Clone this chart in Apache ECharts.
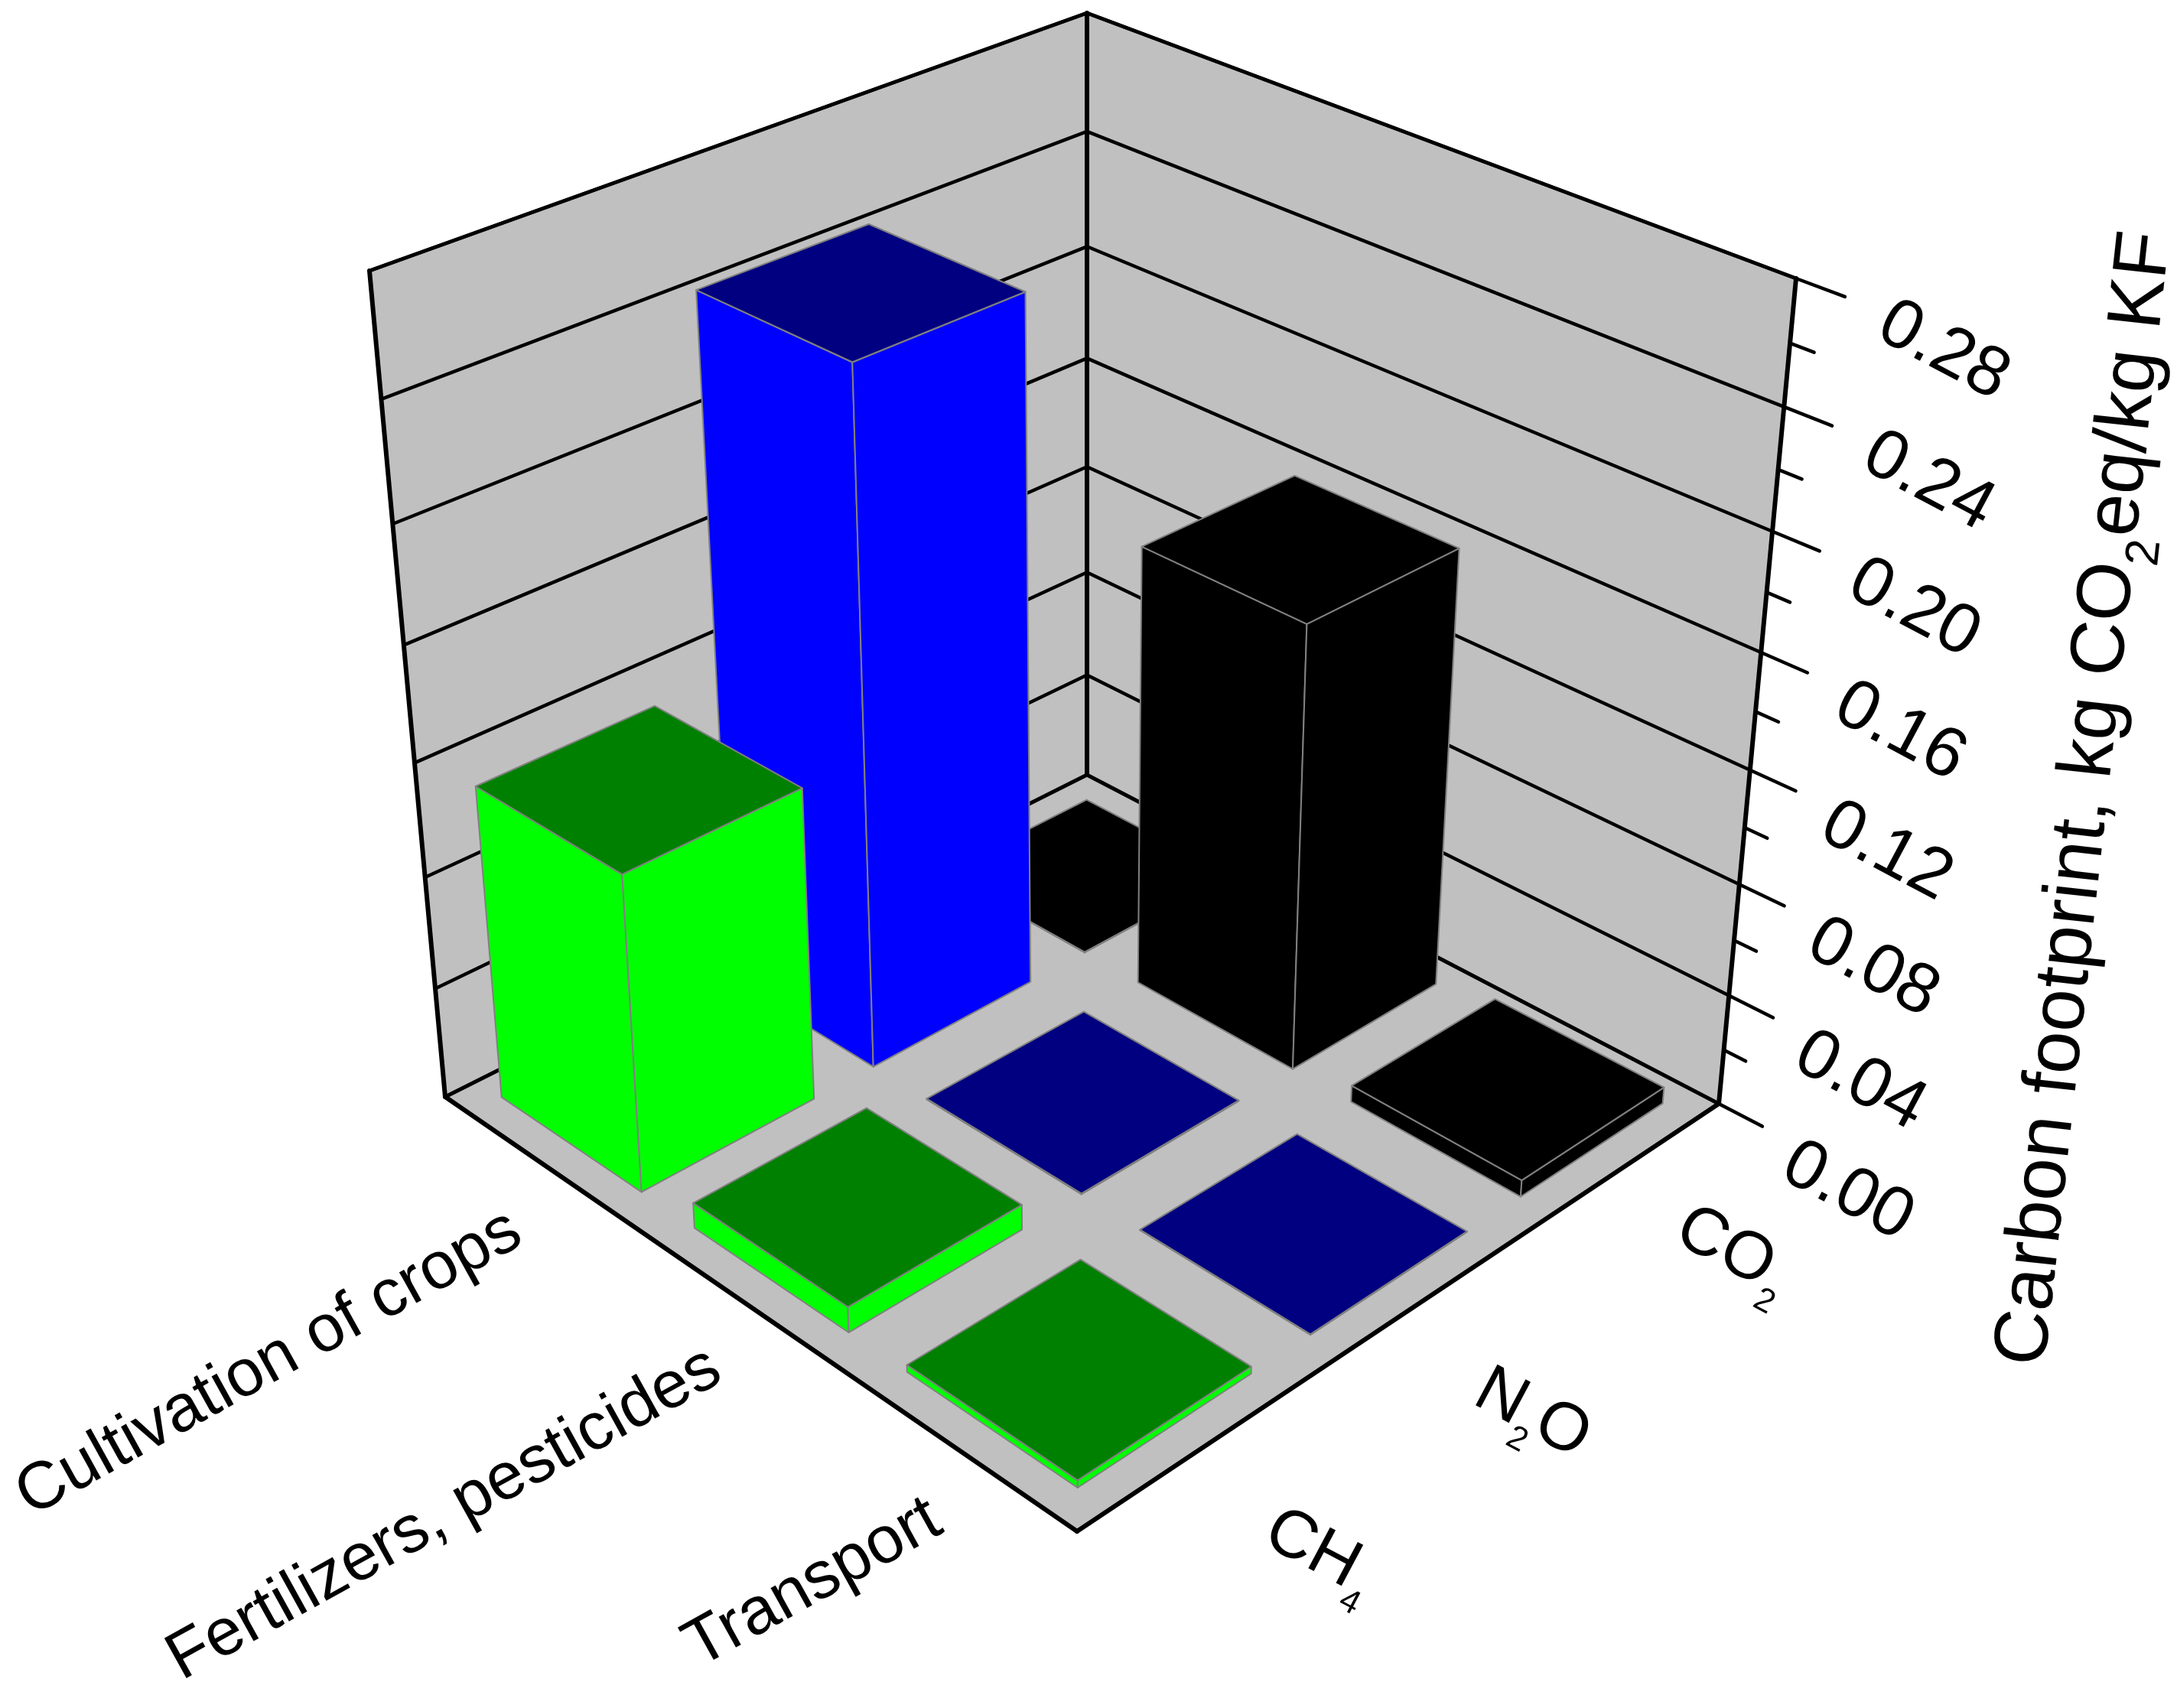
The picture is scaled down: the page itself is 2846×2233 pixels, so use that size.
<!DOCTYPE html>
<html>
<head>
<meta charset="utf-8">
<style>html,body{margin:0;padding:0;background:#fff}#c{width:2846px;height:2233px}</style>
<script src="https://cdn.jsdelivr.net/npm/echarts@6/dist/echarts.min.js"></script>
</head>
<body>
<div id="c"></div>
<script>
// ---- data ----
const processes = ['Cultivation of crops', 'Fertilizers, pesticides', 'Transport'];
const gases = ['CH4', 'N2O', 'CO2'];
const ch4Values = [0.112, 0.009, 0.0025];
const n2oValues = [0.244, 0.0003, 0.0002];
const co2Values = [0.0002, 0.159, 0.006];
const majorTicks = [0, 0.04, 0.08, 0.12, 0.16, 0.2, 0.24, 0.28];
const minorTicks = [0.02, 0.06, 0.1, 0.14, 0.18, 0.22, 0.26];
const axisTitle = '{a|Carbon footprint, kg CO}{s|2}{a|eq/kg KF}';
const gasLabels = ['{a|CH}{s|4}', '{a|N}{s|2}{a|O}', '{a|CO}{s|2}'];
const sideColors = ['#00ff00', '#0000ff', '#000000'];
const topColors = ['#008000', '#000080', '#000000'];

// ---- camera calibration of the 3-D box (floor corners, wall-top corners) ----
const FLOOR = { L: [582, 1434], F: [1408, 2002], R: [2247, 1443], B: [1421, 1013] };
const TOP = { L: [483, 354], R: [2348, 364], B: [1421, 17] };
const PERSPECTIVE = -0.095;
const BAR_WIDTH = 0.735;
const FONT = '"Liberation Sans", Arial, sans-serif';
const GAS_LABEL_OFFSET = [[93, 99], [75, 111], [73, 75]];

function buildCamera() {
  const [x0, y0] = FLOOR.L, [x1, y1] = FLOOR.F, [x2, y2] = FLOOR.R, [x3, y3] = FLOOR.B;
  const dx1 = x1 - x2, dx2 = x3 - x2, sx = x0 - x1 + x2 - x3;
  const dy1 = y1 - y2, dy2 = y3 - y2, sy = y0 - y1 + y2 - y3;
  const den = dx1 * dy2 - dx2 * dy1;
  const g = (sx * dy2 - dx2 * sy) / den, h = (dx1 * sy - sx * dy1) / den;
  const H = [[x1 - x0 + g * x1, x3 - x0 + h * x3, x0], [y1 - y0 + g * y1, y3 - y0 + h * y3, y0], [g, h, 1]];
  // homogeneous lift at the three wall-top corners, spread affinely over the floor
  const lift = (s, t, p) => {
    const hx = H[0][0] * s + H[0][1] * t + H[0][2], hy = H[1][0] * s + H[1][1] * t + H[1][2], w = H[2][0] * s + H[2][1] * t + H[2][2];
    const k = w * (1 + PERSPECTIVE);
    return [p[0] * k - hx, p[1] * k - hy];
  };
  const c00 = lift(0, 0, TOP.L), c01 = lift(0, 1, TOP.B), c11 = lift(1, 1, TOP.R);
  return { H, c00, c01, c11 };
}
const cam = buildCamera();
function project(s, t, z) {
  const H = cam.H;
  const w = H[2][0] * s + H[2][1] * t + H[2][2];
  // affine through (0,0), (0,1), (1,1)
  const cx = cam.c00[0] + (cam.c01[0] - cam.c00[0]) * t + (cam.c11[0] - cam.c01[0]) * s;
  const cy = cam.c00[1] + (cam.c01[1] - cam.c00[1]) * t + (cam.c11[1] - cam.c01[1]) * s;
  const d = w * (1 + PERSPECTIVE * z);
  return [(H[0][0] * s + H[0][1] * t + H[0][2] + z * cx) / d, (H[1][0] * s + H[1][1] * t + H[1][2] + z * cy) / d];
}

// normalised height through the hidden value axis
function heightOf(api, params, v) {
  const cs = params.coordSys;
  return (cs.y + cs.height - api.coord([0, v])[1]) / cs.height;
}
function bandPos(api, params, i) {
  const cs = params.coordSys;
  return (api.coord([i, 0])[0] - cs.x) / cs.width;
}
const poly = (pts, fill, stroke, lw, z2) => ({
  type: 'polygon', z2: z2 || 0, shape: { points: pts },
  style: { fill: fill, stroke: stroke || null, lineWidth: lw || 0, lineJoin: 'round' }
});
const seg = (a, b, lw, z2) => ({
  type: 'line', z2: z2 || 0, shape: { x1: a[0], y1: a[1], x2: b[0], y2: b[1] },
  style: { stroke: '#000', lineWidth: lw, lineCap: 'round' }
});
const label = (p, text, rotDeg, align, size, rich) => ({
  type: 'text', x: p[0], y: p[1], rotation: rotDeg * Math.PI / 180,
  style: Object.assign({ text, x: 0, y: 0, align, verticalAlign: 'middle', fill: '#000', font: size + 'px ' + FONT }, rich ? { rich } : {})
});

// walls + floor + outer frame
function renderBox() {
  const G = '#c0c0c0';
  const L = project(0, 0, 0), F = project(1, 0, 0), R = project(1, 1, 0), B = project(0, 1, 0);
  const Lt = project(0, 0, 1), Rt = project(1, 1, 1), Bt = project(0, 1, 1);
  return {
    type: 'group', children: [
      poly([L, Lt, Bt, B], G), poly([B, Bt, Rt, R], G), poly([L, F, R, B], G),
      seg(L, B, 5), seg(B, R, 5), seg(L, Lt, 6), seg(Lt, Bt, 5), seg(Bt, Rt, 5), seg(Bt, B, 6),
      seg(L, F, 6), seg(F, R, 6), seg(R, Rt, 6)
    ]
  };
}
// grid lines on the two walls, for the ticks
function renderGrid(params, api) {
  const z = heightOf(api, params, api.value(0));
  if (z <= 0) return { type: 'group', children: [] };
  return {
    type: 'group', children: [
      seg(project(0, 0, z), project(0, 1, z), 4.5),
      seg(project(0, 1, z), project(1, 1, z), 4.5)
    ]
  };
}
function renderMajor(params, api) {
  const v = api.value(0), z = heightOf(api, params, v);
  const a = project(1, 1, z), b = project(1.06, 1, z), p = project(1.205, 1, z);
  return { type: 'group', children: [seg(a, b, 4.5), label([p[0] - 30, p[1] + 12], v.toFixed(2), -28, 'center', 92)] };
}
function renderMinor(params, api) {
  const z = heightOf(api, params, api.value(0));
  return seg(project(1, 1, z), project(1.03, 1, z), 4.5);
}
// one 3-D bar
function renderBar(params, api) {
  const i = api.value(0), j = api.value(1), gi = j;
  const z = heightOf(api, params, api.value(2));
  const sc = bandPos(api, params, i), n = processes.length, m = gases.length;
  const s0 = sc - BAR_WIDTH / n / 2, s1 = sc + BAR_WIDTH / n / 2;
  const t0 = (j + 0.5 - BAR_WIDTH / 2) / m, t1 = (j + 0.5 + BAR_WIDTH / 2) / m;
  const EDGE = '#808080', LW = 2, side = sideColors[gi], top = topColors[gi];
  return {
    type: 'group', children: [
      poly([project(s0, t0, 0), project(s1, t0, 0), project(s1, t0, z), project(s0, t0, z)], side, EDGE, LW),
      poly([project(s1, t0, 0), project(s1, t1, 0), project(s1, t1, z), project(s1, t0, z)], side, EDGE, LW),
      poly([project(s0, t0, z), project(s1, t0, z), project(s1, t1, z), project(s0, t1, z)], top, EDGE, LW)
    ]
  };
}
function renderProcessLabel(params, api) {
  const i = api.value(0), s = bandPos(api, params, i), p = project(s, 0, 0);
  return label([p[0] - 28, p[1] + 86], processes[i], 29, 'right', 87);
}
function renderGasLabel(params, api) {
  const j = api.value(0), p = project(1, (j + 0.5) / gases.length, 0), o = GAS_LABEL_OFFSET[j];
  return label([p[0] + o[0], p[1] + o[1]], gasLabels[j], -28, 'left', 88, {
    a: { fontSize: 88, fontFamily: FONT, lineHeight: 122, fill: '#000' },
    s: { fontSize: 44, fontFamily: FONT, lineHeight: 122, verticalAlign: 'bottom', fill: '#000' }
  });
}
function renderTitle() {
  return label([2727, 1044], axisTitle, 83.7, 'center', 100, {
    a: { fontSize: 100, fontFamily: FONT, lineHeight: 146, fill: '#000' },
    s: { fontSize: 62, fontFamily: FONT, lineHeight: 146, verticalAlign: 'bottom', fill: '#000' }
  });
}

// back to front: CO2 row first, cultivation first in each row
const barRows = [];
[co2Values, n2oValues, ch4Values].forEach((vals, k) => {
  vals.forEach((v, i) => barRows.push([i, 2 - k, v]));
});

const custom = (name, z, renderItem, data, extra) => Object.assign({
  name, type: 'custom', coordinateSystem: 'cartesian2d', z, silent: true, clip: false,
  animation: false, renderItem, data
}, extra || {});

const chart = echarts.init(document.getElementById('c'), null, { renderer: 'canvas' });
chart.setOption({
  backgroundColor: '#ffffff',
  animation: false,
  tooltip: { show: false },
  grid: { left: 100, top: 100, width: 1000, height: 1000, show: false },
  xAxis: { type: 'category', data: processes, show: false },
  yAxis: { type: 'value', min: 0, max: 0.28, interval: 0.04, show: false },
  series: [
    custom('box', 1, renderBox, [[0]]),
    custom('grid', 2, renderGrid, majorTicks.map(v => [v]), { encode: { y: 0 } }),
    custom('major', 3, renderMajor, majorTicks.map(v => [v]), { encode: { y: 0 } }),
    custom('minor', 3, renderMinor, minorTicks.map(v => [v]), { encode: { y: 0 } }),
    custom('bars', 4, renderBar, barRows, { encode: { x: 0, y: 2 } }),
    custom('processLabels', 5, renderProcessLabel, processes.map((p, i) => [i])),
    custom('gasLabels', 5, renderGasLabel, gases.map((g, i) => [i])),
    custom('title', 5, renderTitle, [[0]])
  ]
});
</script>
</body>
</html>
